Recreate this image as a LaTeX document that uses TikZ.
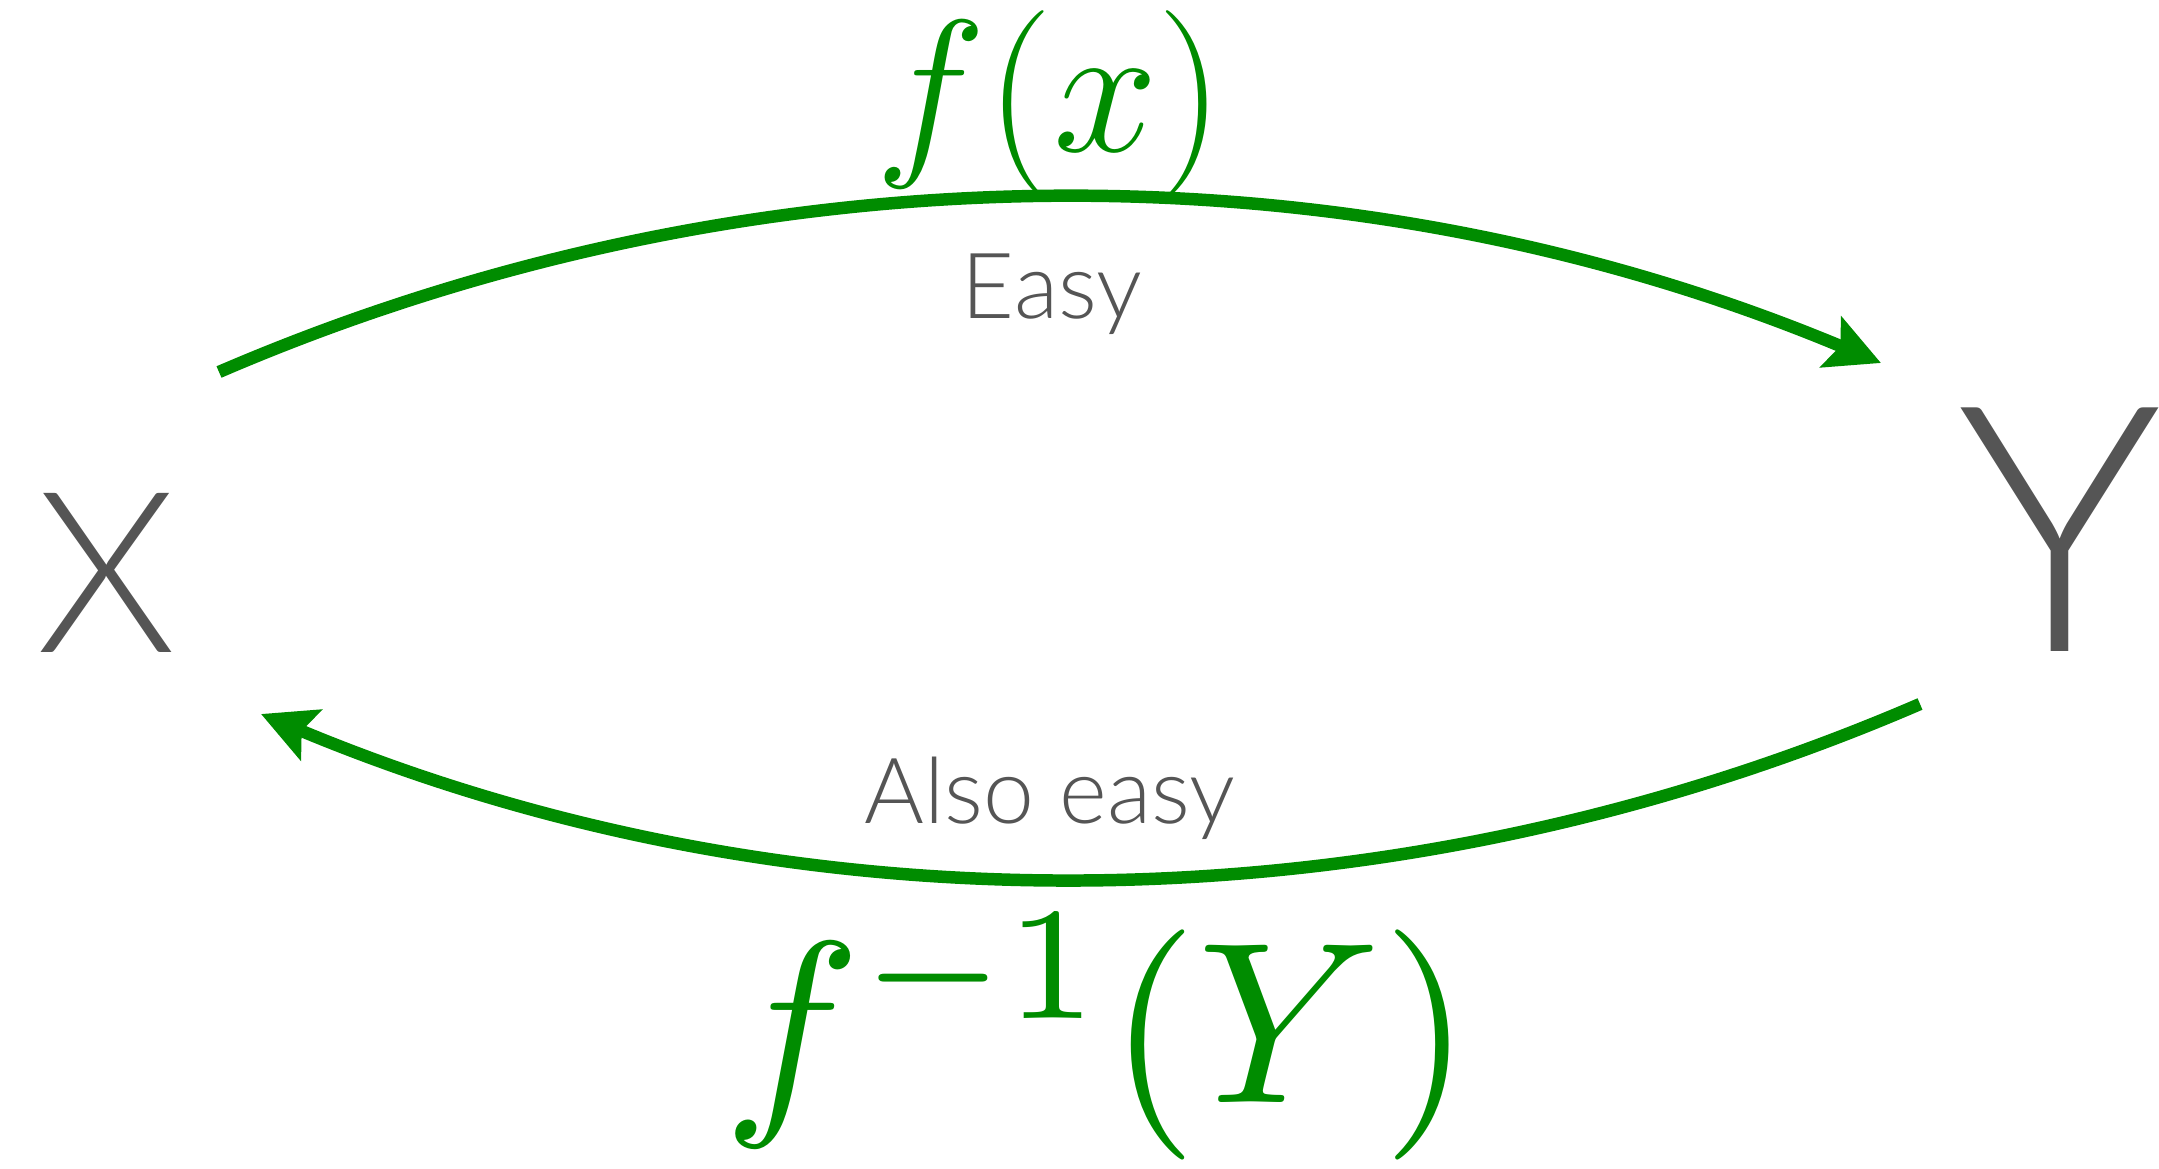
\RequirePackage{fix-cm}
\documentclass[tikz,border=0pt]{standalone}
\usepackage{amsmath,amssymb}
\usepackage{xcolor}
\usepackage{fontspec}
\usepackage{tikz}
\usetikzlibrary{arrows.meta}
\newfontfamily\lightsans{Lato Light}
\definecolor{labelgray}{RGB}{85,85,85}
\definecolor{mapgreen}{RGB}{0,140,0}

\begin{document}
\begin{tikzpicture}[
    settext/.style={text=labelgray,inner sep=0pt},
    maparrow/.style={mapgreen,line width=3.55pt,
      -{Stealth[length=5.4mm,width=5.4mm,inset=1mm]}},
    maplabel/.style={text=mapgreen,inner sep=0pt,anchor=base}
  ]
  \useasboundingbox (0,0) rectangle (21.59,11.68);
  % the two sets
  \node[settext,font=\lightsans\fontsize{64}{70}\selectfont] (setX) at (1.07,5.95) {X};
  \node[settext,font=\lightsans\fontsize{98}{100}\selectfont] (setY) at (20.60,6.38) {Y};
  % ends of the two maps
  \coordinate (fstart) at (2.19,7.96);
  \coordinate (fend) at (18.81,8.05);
  \coordinate (finvstart) at (19.20,4.64);
  \coordinate (finvend) at (2.61,4.54);
  \draw[maparrow] (fstart) to[bend left=23,looseness=0.89] (fend);
  \draw[maparrow] (finvstart) to[bend left=23,looseness=0.89] (finvend);
  % labels of the maps
  \node[maplabel,font=\fontsize{53.5}{60}\selectfont] (fx) at (10.50,10.16) {$f(x)$};
  \node[settext,anchor=base,font=\lightsans\fontsize{26}{30}\selectfont] (easy) at (10.52,8.49) {Easy};
  \node[settext,anchor=base,font=\lightsans\fontsize{26}{30}\selectfont] (alsoeasy) at (10.50,3.45) {Also easy};
  \node[maplabel] (finv) at (10.98,0.66) {\scalebox{6.55}{$f^{-1}(Y)$}};
\end{tikzpicture}
\end{document}
